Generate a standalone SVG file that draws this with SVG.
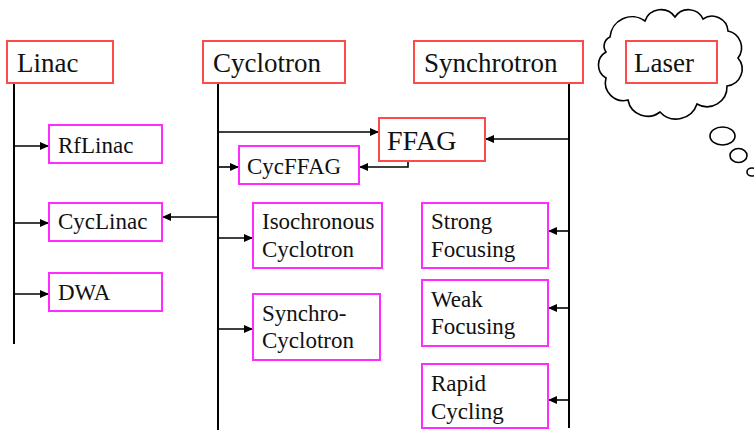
<svg xmlns="http://www.w3.org/2000/svg" width="754" height="430" viewBox="0 0 754 430">
<style>
.red{fill:#fff;stroke:#ff4a4a;stroke-width:2}
.mag{fill:#fff;stroke:#ff2bff;stroke-width:2}
.big{font-family:"Liberation Serif","Times New Roman",serif;font-size:27px;fill:#111}
.sm{font-family:"Liberation Serif","Times New Roman",serif;font-size:23px;fill:#111}
.ln{fill:none;stroke:#000;stroke-width:2}
.ar{fill:none;stroke:#000;stroke-width:1.6;marker-end:url(#ah)}
.cl{fill:#fff;stroke:#000;stroke-width:1.6}
</style>
<defs>
<marker id="ah" markerUnits="userSpaceOnUse" markerWidth="10" markerHeight="8" refX="9" refY="4" orient="auto">
<path d="M0,0 L9,4 L0,8 z" fill="#000"/>
</marker>
</defs>
<g id="cloud">
<path class="cl" d="M610,37 A22,22 0 0 1 645,21 A17,17 0 0 1 675,17 A16,16 0 0 1 703,19 A16,16 0 0 1 728,31 A17,17 0 0 1 738,58 A17,17 0 0 1 727,86 A20,20 0 0 1 697,104 A22,22 0 0 1 660,112 A20,20 0 0 1 628,100 A18,18 0 0 1 606,78 A15,15 0 0 1 606,52 A10,10 0 0 1 610,37 Z"/>
<ellipse class="cl" cx="722.5" cy="136" rx="12.5" ry="9"/>
<ellipse class="cl" cx="738.5" cy="155.5" rx="8.5" ry="7"/>
<ellipse class="cl" cx="752" cy="172" rx="5" ry="4"/>
</g>
<g id="connectors">
<line class="ln" x1="14" y1="83" x2="14" y2="344"/>
<line class="ln" x1="218" y1="83" x2="218" y2="430"/>
<line class="ln" x1="569" y1="83" x2="569" y2="428"/>
<line class="ar" x1="14" y1="146" x2="49" y2="146"/>
<line class="ar" x1="14" y1="223" x2="49" y2="223"/>
<line class="ar" x1="14" y1="294" x2="49" y2="294"/>
<line class="ar" x1="218" y1="132" x2="379" y2="132"/>
<line class="ar" x1="218" y1="167" x2="239" y2="167"/>
<line class="ar" x1="218" y1="217" x2="162" y2="217"/>
<line class="ar" x1="218" y1="238" x2="253" y2="238"/>
<line class="ar" x1="218" y1="329" x2="253" y2="329"/>
<polyline class="ar" points="408,161 408,167 359,167"/>
<line class="ar" x1="569" y1="139" x2="485" y2="139"/>
<line class="ar" x1="569" y1="231" x2="548" y2="231"/>
<line class="ar" x1="569" y1="308" x2="548" y2="308"/>
<line class="ar" x1="569" y1="400" x2="548" y2="400"/>
</g>
<g id="linac"><rect class="red" x="7" y="41" width="106" height="42"/><text class="big" x="17" y="72">Linac</text></g>
<g id="cyclotron"><rect class="red" x="203" y="41" width="142" height="42"/><text class="big" x="213" y="72">Cyclotron</text></g>
<g id="synchrotron"><rect class="red" x="414" y="41" width="169" height="42"/><text class="big" x="424" y="72">Synchrotron</text></g>
<g id="laser"><rect class="red" x="626" y="41" width="91" height="42"/><text class="big" x="634" y="72">Laser</text></g>
<g id="ffag"><rect class="red" x="379" y="118" width="106" height="43"/><text class="big" x="387" y="150" style="font-size:28px">FFAG</text></g>
<g id="rflinac"><rect class="mag" x="49" y="125" width="113" height="38"/><text class="sm" x="58" y="153">RfLinac</text></g>
<g id="cycffag"><rect class="mag" x="239" y="146" width="120" height="38"/><text class="sm" x="247" y="174">CycFFAG</text></g>
<g id="cyclinac"><rect class="mag" x="49" y="203" width="113" height="38"/><text class="sm" x="58" y="229">CycLinac</text></g>
<g id="dwa"><rect class="mag" x="49" y="273" width="113" height="38"/><text class="sm" x="58" y="300">DWA</text></g>
<g id="isochronous"><rect class="mag" x="253" y="203" width="129" height="65"/><text class="sm" x="262" y="229">Isochronous</text><text class="sm" x="262" y="257">Cyclotron</text></g>
<g id="synchrocyclotron"><rect class="mag" x="253" y="294" width="127" height="66"/><text class="sm" x="262" y="321">Synchro-</text><text class="sm" x="262" y="348">Cyclotron</text></g>
<g id="strong"><rect class="mag" x="422" y="203" width="126" height="65"/><text class="sm" x="431" y="229">Strong</text><text class="sm" x="431" y="257">Focusing</text></g>
<g id="weak"><rect class="mag" x="422" y="280" width="126" height="66"/><text class="sm" x="431" y="307">Weak</text><text class="sm" x="431" y="334">Focusing</text></g>
<g id="rapid"><rect class="mag" x="422" y="364" width="126" height="64"/><text class="sm" x="431" y="391">Rapid</text><text class="sm" x="431" y="419">Cycling</text></g>
</svg>
